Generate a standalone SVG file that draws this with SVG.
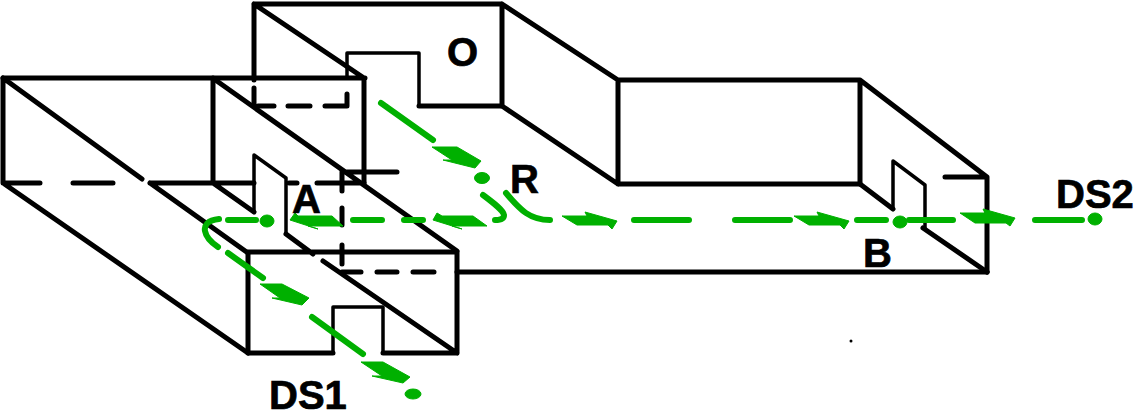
<svg xmlns="http://www.w3.org/2000/svg" width="1136" height="418" viewBox="0 0 1136 418">
<style>
.k{fill:none;stroke:#000;stroke-width:5;stroke-linecap:round;stroke-linejoin:round}
.t{fill:none;stroke:#000;stroke-width:3.5;stroke-linecap:round;stroke-linejoin:round}
.g{fill:none;stroke:#00b000;stroke-width:6;stroke-linecap:round}
.a,.d{fill:#00b000;stroke:#00b000;stroke-width:1}
text{font-family:"Liberation Sans",Arial,sans-serif;font-weight:bold;font-size:40px;fill:#000;stroke:#000;stroke-width:.7}
</style>
<rect width="1136" height="418" fill="#fff"/>
<g id="structure">
<path class="k" d="M254,88V105M347,94V106M258,106H274M288,106H310M325,106H347"/>
<path class="k" d="M254,80V4H502V106M254,4L364,78V183M3,78H365M502,4L618,80H860L987,177V272M618,80V184H860V80M502,106L618,184M945,177H987"/>
<path class="k" d="M3,78V183L248,353M3,78L142,179M3,183H40M73,183H113M150,183H254M150,183L248,253M213,78V183L254,212"/>
<path class="k" d="M214,79L457,251M289,183H297M317,183H364M343,172H397"/>
<path class="k" d="M342,172V191M342,208V225M342,245V264M342,272H361M377,272H397M413,272H434M457,272H987"/>
<path class="k" d="M248,252H457V353H383M333,353H248V252M323,261L457,353M286,234L313,254"/>
<path class="t" d="M333,353V307H383V353M254,212V155L286,178V234M347,78V53H419V106"/>
<path class="k" d="M419,106H502M860,184L893,209"/>
<path class="t" d="M893,209V161L925,185V228"/>
<path class="k" d="M923,228L987,272"/>
<circle cx="851" cy="341" r="1.5" fill="#000"/>
</g>
<g id="connectors">
<path class="g" d="M381,103L433,140M483,195C495,204 503,210 504,215C504,219 499,220 495,220M506,193C520,210 530,220 550,220M634,220H689M735,220H790M857,220H886M909,220H953M1035,220H1082M353,220H382M404,220H423M228,220H256M219,219C207,220 204,226 205,231C206,237 212,243 218,247M228,253L263,278M312,317L363,354"/>
<polygon class="a" points="432,147 457,147 481,161 475,168 443,160 452,160"/>
<polygon class="a" points="361,362 383,362 410,377 403,383 372,376 382,376"/>
<polygon class="a" points="260,284 282,284 309,298 302,305 272,298 280,298"/>
<polygon class="a" points="437,213 442,216 473,216 487,226 452,226 462,229 433,220"/>
<polygon class="a" points="290,220 295,213 298,216 332,216 343,226 308,226 318,229"/>
<polygon class="a" points="562,216 587,216 585,212 617,221 612,229 608,225 577,225"/>
<polygon class="a" points="794,216 819,216 817,212 849,221 844,229 840,225 809,225"/>
<polygon class="a" points="960,213 985,213 983,209 1015,218 1010,226 1006,223 975,223"/>
<ellipse class="d" cx="482" cy="178" rx="7.5" ry="5.5"/>
<ellipse class="d" cx="267" cy="221" rx="7" ry="6"/>
<ellipse class="d" cx="900" cy="222" rx="7" ry="6"/>
<ellipse class="d" cx="1095" cy="219" rx="7" ry="6"/>
<ellipse class="d" cx="413" cy="394" rx="8" ry="5"/>
</g>
<g id="labels">
<text x="447" y="66">O</text>
<text x="510" y="193">R</text>
<text x="292" y="213">A</text>
<text x="863" y="267">B</text>
<text x="1056" y="208">DS2</text>
<text x="269" y="409">DS1</text>
</g>
</svg>
